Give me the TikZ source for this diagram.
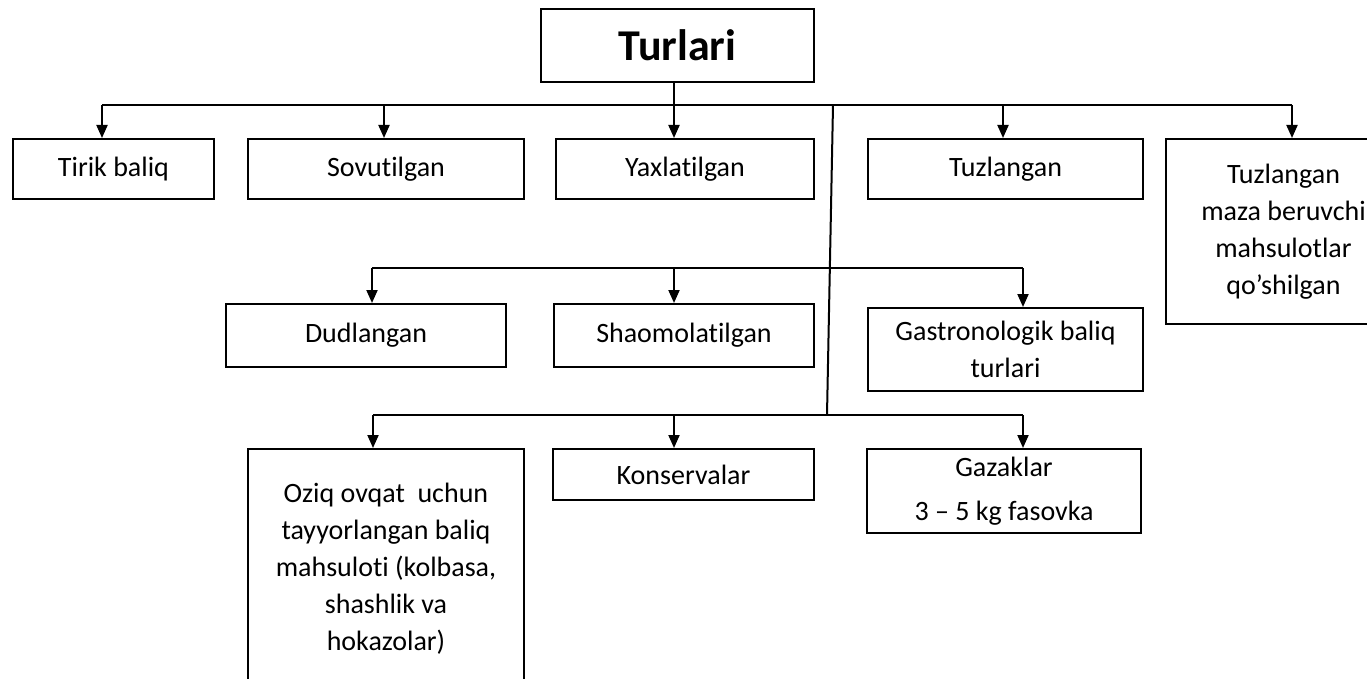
\documentclass[tikz,border=0pt]{standalone}
\usepackage{fontspec}
\setmainfont{Carlito}[Ligatures={NoCommon}]
\usetikzlibrary{arrows.meta}
\begin{document}
\begin{tikzpicture}[x=1pt,y=-1pt,
  box/.style={draw, line width=2pt, anchor=north west, inner sep=0pt,
    align=center, font=\fontsize{28}{37}\selectfont},
  link/.style={line width=2pt},
  arr/.style={link, -{Triangle[width=11pt,length=13pt]}}]
\useasboundingbox (0,0) rectangle (1367,679);
\clip (0,0) rectangle (1367,679);

% root
\node[box, minimum width=273, minimum height=73,
  font=\fontsize{44}{50}\selectfont\bfseries] (root) at (540,8) {Turlari};

% first row
\node[box, minimum width=201, minimum height=60] (tirik) at (12,138) {Tirik baliq};
\node[box, minimum width=276, minimum height=60] (sovut) at (247,138) {Sovutilgan};
\node[box, minimum width=258, minimum height=60] (yaxlat) at (555,138) {Yaxlatilgan};
\node[box, minimum width=275, minimum height=60] (tuzl) at (867,138) {Tuzlangan};
\node[box, minimum width=235, minimum height=185] (maza) at (1165,138)
  {Tuzlangan\\maza beruvchi\\mahsulotlar\\qo’shilgan};

% second row
\node[box, minimum width=280, minimum height=63] (dudl) at (225,303) {Dudlangan};
\node[box, minimum width=260, minimum height=63] (shao) at (553,303) {Shaomolatilgan};
\node[box, minimum width=275, minimum height=83] (gastro) at (867,307)
  {Gastronologik baliq\\turlari};

% third row
\node[box, minimum width=276, minimum height=240] (oziq) at (247,448)
  {Oziq ovqat\ \ uchun\\tayyorlangan baliq\\mahsuloti (kolbasa,\\shashlik va\\hokazolar)};
\node[box, minimum width=261, minimum height=51] (kons) at (552,448) {Konservalar};
\node[box, minimum width=274, minimum height=84] (gaz) at (866,448)
  {Gazaklar\\[7pt]3 -- 5 kg fasovka};

% distribution lines
\coordinate (a1) at (102,105);
\coordinate (a2) at (384,105);
\coordinate (a3) at (674,105);
\coordinate (a4) at (1003,105);
\coordinate (a5) at (1292,105);
\coordinate (b1) at (372,268);
\coordinate (b2) at (674,268);
\coordinate (b3) at (1023,268);
\coordinate (c1) at (373,415);
\coordinate (c2) at (674,415);
\coordinate (c3) at (1023,415);
\coordinate (trunkTop) at (833,105);
\coordinate (trunkEnd) at (827,415);

\draw[link] (root.south -| a3) -- (a3);
\draw[link] (a1) -- (a5);
\draw[link] (trunkTop) -- (trunkEnd);
\draw[link] (b1) -- (b3);
\draw[link] (c1) -- (c3);

\draw[arr] (a1) -- (a1 |- tirik.north);
\draw[arr] (a2) -- (a2 |- sovut.north);
\draw[arr] (a3) -- (a3 |- yaxlat.north);
\draw[arr] (a4) -- (a4 |- tuzl.north);
\draw[arr] (a5) -- (a5 |- maza.north);
\draw[arr] (b1) -- (b1 |- dudl.north);
\draw[arr] (b2) -- (b2 |- shao.north);
\draw[arr] (b3) -- (b3 |- gastro.north);
\draw[arr] (c1) -- (c1 |- oziq.north);
\draw[arr] (c2) -- (c2 |- kons.north);
\draw[arr] (c3) -- (c3 |- gaz.north);
\end{tikzpicture}
\end{document}
